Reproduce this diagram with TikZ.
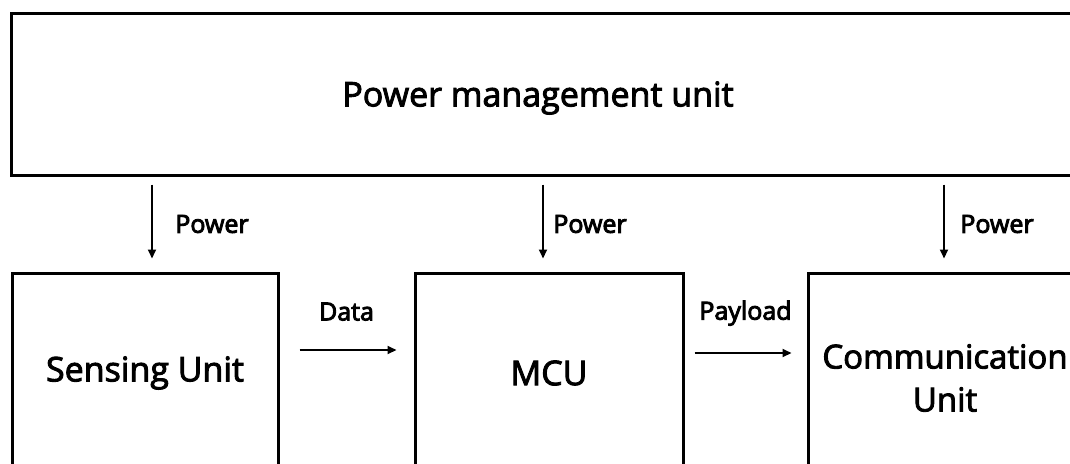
\documentclass[tikz,border=0pt]{standalone}
\usepackage{fontspec}
\setmainfont{Open Sans}
\usetikzlibrary{arrows.meta}
% heavier lettering: fill and stroke the glyph outlines
\newcommand\heavytext[1]{\special{pdf:literal direct 2 Tr 0.9 w}#1\special{pdf:literal direct 0 Tr}}
\begin{document}
\begin{tikzpicture}[x=1pt,y=-1pt,
  block/.style={draw, line width=3pt, inner sep=0pt},
  flow/.style={line width=2pt, -{Triangle[length=9pt,width=8pt]}},
  big/.style={font=\fontsize{34}{43}\selectfont, align=center},
  small/.style={font=\fontsize{25}{29}\selectfont}]
  \useasboundingbox (0,0) rectangle (1070,463);
  \clip (0,0) rectangle (1070,463);
  % power management unit across the top
  \node[block, minimum width=1089pt, minimum height=162pt] (pmu) at (555.5,94) {};
  \node[big] (pmutext) at (538,98) {\heavytext{Power management unit}};
  % the three units below
  \node[block, minimum width=266pt, minimum height=200pt, big] (sens) at (145,373) {\heavytext{Sensing Unit}};
  \node[block, minimum width=268pt, minimum height=200pt, big] (mcu) at (549,373) {\heavytext{MCU}};
  \node[block, minimum width=290pt, minimum height=200pt] (comm) at (953,373) {};
  \node[big, font=\fontsize{33}{43}\selectfont] (commtext) at (945,378) {\heavytext{Communication}\\\heavytext{Unit}};
  % power feeds
  \draw[flow, shorten <=8pt, shorten >=13pt] ([xshift=7pt]sens.north |- pmu.south) -- ([xshift=7pt]sens.north)
    node[small, midway, right=19pt] (p1) {\heavytext{Power}};
  \draw[flow, shorten <=8pt, shorten >=13pt] ([xshift=-6pt]mcu.north |- pmu.south) -- ([xshift=-6pt]mcu.north)
    node[small, midway, right=6pt] (p2) {\heavytext{Power}};
  \draw[flow, shorten <=8pt, shorten >=13pt] ([xshift=-9pt]comm.north |- pmu.south) -- ([xshift=-9pt]comm.north)
    node[small, midway, right=12pt] (p3) {\heavytext{Power}};
  % data path
  \draw[flow, shorten <=20pt, shorten >=17pt] ([yshift=23pt]sens.east) -- ([yshift=23pt]sens.east -| mcu.west)
    node[small, midway, above=25pt] (d) {\heavytext{Data}};
  \draw[flow, shorten <=10pt, shorten >=15pt] ([yshift=20pt]mcu.east) -- ([yshift=20pt]mcu.east -| comm.west)
    node[small, midway, above=23pt] (pl) {\heavytext{Payload}};
\end{tikzpicture}
\end{document}
